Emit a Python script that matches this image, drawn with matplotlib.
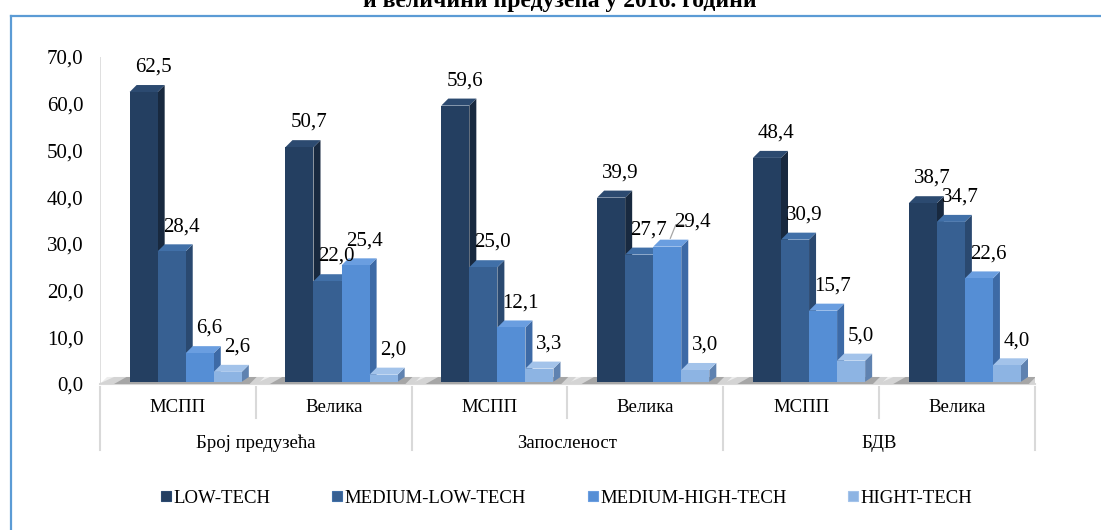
import matplotlib.pyplot as plt
from matplotlib.patches import Polygon, Rectangle
from matplotlib.lines import Line2D
import matplotlib.transforms as mtransforms

plt.rcParams['font.family'] = ['Liberation Serif', 'DejaVu Serif']

# podaci
groups = ['Број предузећа', 'Запосленост', 'БДВ']
sizes = ['МСПП', 'Велика', 'МСПП', 'Велика', 'МСПП', 'Велика']
series = ['LOW-TECH', 'MEDIUM-LOW-TECH', 'MEDIUM-HIGH-TECH', 'HIGHT-TECH']
low_tech = [62.5, 50.7, 59.6, 39.9, 48.4, 38.7]
medium_low_tech = [28.4, 22.0, 25.0, 27.7, 30.9, 34.7]
medium_high_tech = [6.6, 25.4, 12.1, 29.4, 15.7, 22.6]
high_tech = [2.6, 2.0, 3.3, 3.0, 5.0, 4.0]
values = [low_tech, medium_low_tech, medium_high_tech, high_tech]
yticks = [0, 10, 20, 30, 40, 50, 60, 70]

# boje: prednja strana, bocna strana, gornja strana
front = ['#243f61', '#376092', '#558ed5', '#8db4e3']
side = ['#18293f', '#2a4970', '#3d6aa6', '#5f82b0']
top = ['#2c4a70', '#4170a8', '#6a9ee0', '#a3c3ea']

fig = plt.figure(figsize=(11.01, 5.30), dpi=100)
ax = fig.add_axes([100 / 1101, (530 - 384) / 530, 935 / 1101, 327 / 530])

bw = 0.18       # sirina stubica
dx = 0.045      # dubina (x)
dy = 1.5        # dubina (y)
fs = 15         # vrednosti i y osa
fs_cat = 13.5
fs_leg = 13.5

# pod i senka
ax.add_patch(Polygon([(-0.5, 0), (5.5, 0), (5.5 + dx, dy), (-0.5 + dx, dy)],
                     closed=True, facecolor='#ededed', edgecolor='none', zorder=1))
for i in range(len(sizes)):
    x0 = i + 0.05 - 2 * bw
    x1 = i + 0.05 + 2 * bw
    ax.add_patch(Polygon([(x0 - 0.2, 0), (x1 + 0.1, 0), (x1 + 0.1 + dx, dy), (x0 - 0.1, dy)],
                         closed=True, facecolor='#d4d4d4', edgecolor='none', zorder=1))
    ax.add_patch(Polygon([(x0 - 0.1, 0), (x1 + 0.05, 0), (x1 + 0.05 + dx, dy), (x0 - 0.02, dy)],
                         closed=True, facecolor='#a6a6a6', edgecolor='none', zorder=1))

lab_w = 0.23    # priblizna sirina oznake u jedinicama x ose
lab_h = 3.2     # priblizna visina oznake u jedinicama y ose
z = 2
for i in range(len(sizes)):
    prev = None
    for j, vals in enumerate(values):
        v = vals[i]
        xc = i + 0.05 + (j - 1.5) * bw
        xl, xr = xc - bw / 2, xc + bw / 2
        ax.add_patch(Polygon([(xr, 0.5), (xr + dx, dy), (xr + dx, v + dy), (xr, v)],
                             closed=True, facecolor=side[j], edgecolor='none', zorder=z))
        ax.add_patch(Polygon([(xl, v), (xr, v), (xr + dx, v + dy), (xl + dx, v + dy)],
                             closed=True, facecolor=top[j], edgecolor='none', zorder=z))
        ax.add_patch(Rectangle((xl, 0.5), bw, v - 0.5, facecolor=front[j], edgecolor='none', zorder=z))
        z += 1
        tx, ty = xc + 0.06, v + 5.3
        if prev is not None and abs(prev[1] - ty) < lab_h and tx - prev[0] < lab_w + 0.02:
            tx = prev[0] + lab_w + 0.05
            ax.plot([xc + 0.02, tx - lab_w / 2 + 0.01, tx - lab_w / 2 + 0.06],
                    [v + dy + 0.3, ty - 0.6, ty - 0.6], color='#a6a6a6', lw=0.9, zorder=49)
        ax.text(tx, ty, f'{v:.1f}'.replace('.', ','), ha='center', va='center',
                fontsize=fs, color='black', zorder=50)
        prev = (tx, ty)

ax.set_xlim(-0.5, 5.5)
ax.set_ylim(0, 70)
ax.set_yticks(yticks)
ax.set_yticklabels([f'{t:.1f}'.replace('.', ',') for t in yticks], fontsize=fs)
ax.tick_params(axis='y', length=0, pad=12)
ax.set_xticks([])
for s in ax.spines.values():
    s.set_visible(False)
ax.plot([-0.5, -0.5], [0, 70], color='#d9d9d9', lw=1.2, zorder=0)
ax.plot([-0.5, 5.5], [0, 0], color='#d9d9d9', lw=1.5, zorder=0, clip_on=False)

# kategorije na x osi
tr = mtransforms.blended_transform_factory(ax.transData, ax.transAxes)
h = 327
for i, lab in enumerate(sizes):
    ax.text(i, -24 / h, lab, transform=tr, ha='center', va='center', fontsize=fs_cat)
for g, lab in enumerate(groups):
    ax.text(2 * g + 0.5, -59 / h, lab, transform=tr, ha='center', va='center', fontsize=fs_cat)
for k in range(7):
    xb = k - 0.5
    ybot = -66 / h if k % 2 == 0 else -34 / h
    ax.add_line(Line2D([xb, xb], [-3 / h, ybot], transform=tr, color='#d9d9d9', lw=1.5, clip_on=False))

# legenda
handles = [Line2D([], [], marker='s', linestyle='none', markersize=7.5, markerfacecolor=front[j],
                  markeredgecolor=top[j], markeredgewidth=0.8) for j in range(4)]
fig.legend(handles, series, loc='center', bbox_to_anchor=(567 / 1101, 1 - 498 / 530), ncol=4,
           frameon=False, fontsize=fs_leg, handlelength=0.5, handletextpad=0.15, columnspacing=3.3)

# naslov (odsecen na vrhu)
fig.text(560 / 1101, 1 - 7 / 530, 'и величини предузећа у 2016. години', ha='center', va='baseline',
         fontsize=17, fontweight='bold')

# okvir
fig.add_artist(Line2D([11 / 1101, 11 / 1101], [0, 1 - 16 / 530], transform=fig.transFigure,
                      color='#5b9bd5', lw=1.6))
fig.add_artist(Line2D([11 / 1101, 1], [1 - 16 / 530, 1 - 16 / 530], transform=fig.transFigure,
                      color='#5b9bd5', lw=1.6))

fig.savefig('out.png', dpi=100)
